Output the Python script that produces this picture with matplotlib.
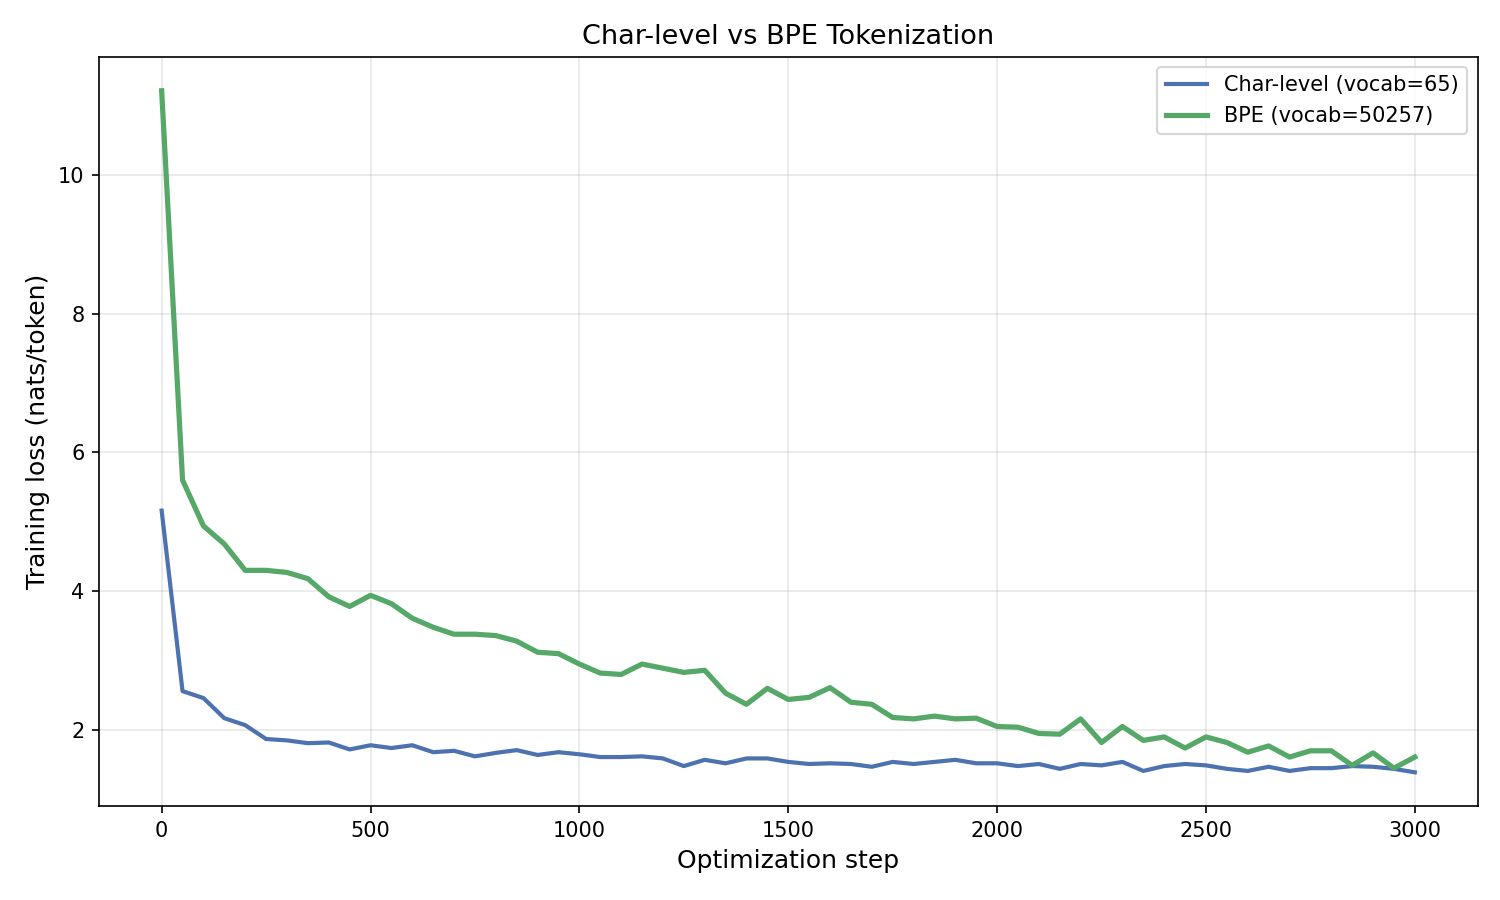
import numpy as np
import matplotlib
matplotlib.use("Agg")
import matplotlib.pyplot as plt

steps = np.arange(0, 3001, 50)

char_loss = [
    5.16, 2.56, 2.46, 2.17, 2.07, 1.87, 1.85, 1.81, 1.82, 1.72,
    1.78, 1.74, 1.78, 1.68, 1.70, 1.62, 1.67, 1.71, 1.64, 1.68,
    1.65, 1.61, 1.61, 1.62, 1.59, 1.48, 1.57, 1.52, 1.59, 1.59,
    1.54, 1.51, 1.52, 1.51, 1.47, 1.54, 1.51, 1.54, 1.57, 1.52,
    1.52, 1.48, 1.51, 1.44, 1.51, 1.49, 1.54, 1.41, 1.48, 1.51,
    1.49, 1.44, 1.41, 1.47, 1.41, 1.45, 1.45, 1.48, 1.47, 1.44,
    1.39,
]

bpe_loss = [
    11.21, 5.60, 4.94, 4.68, 4.30, 4.30, 4.27, 4.18, 3.92, 3.78,
    3.94, 3.82, 3.61, 3.48, 3.38, 3.38, 3.36, 3.28, 3.12, 3.10,
    2.95, 2.82, 2.80, 2.95, 2.89, 2.83, 2.86, 2.53, 2.37, 2.60,
    2.44, 2.47, 2.61, 2.40, 2.37, 2.18, 2.16, 2.20, 2.16, 2.17,
    2.05, 2.04, 1.95, 1.94, 2.16, 1.82, 2.05, 1.85, 1.90, 1.74,
    1.90, 1.82, 1.68, 1.77, 1.61, 1.70, 1.70, 1.49, 1.67, 1.45,
    1.61,
]

fig, ax = plt.subplots(figsize=(10, 6), dpi=150)
ax.plot(steps, char_loss, color="#4c72b0", lw=2.0, label="Char-level (vocab=65)")
ax.plot(steps, bpe_loss, color="#55a868", lw=2.5, label="BPE (vocab=50257)")
ax.set_title("Char-level vs BPE Tokenization", fontsize=13)
ax.set_xlabel("Optimization step", fontsize=12)
ax.set_ylabel("Training loss (nats/token)", fontsize=12)
ax.grid(True, alpha=0.3)
ax.legend(loc="upper right", fontsize=10)
fig.subplots_adjust(left=0.066, right=0.985, top=0.937, bottom=0.104)
fig.savefig("out.png", dpi=150)
